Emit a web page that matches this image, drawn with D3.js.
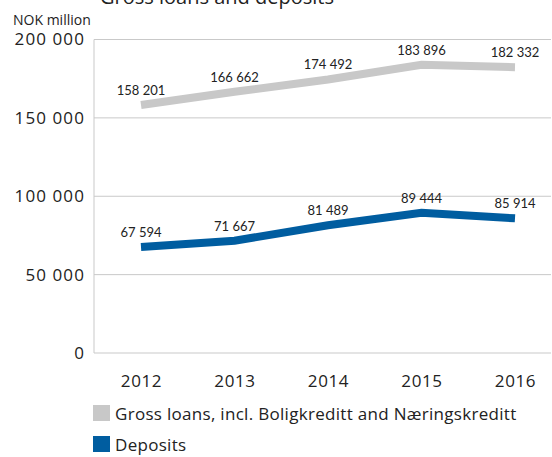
<!DOCTYPE html>
<html>
<head>
<meta charset="utf-8">
<script src="https://cdn.jsdelivr.net/npm/d3@7"></script>
<style>
  body { margin: 0; background: #fff; }
  svg text { font-family: "Open Sans", sans-serif; fill: #222; }
</style>
</head>
<body>
<div id="chart"></div>
<script>
// Chart data
const years = ['2012', '2013', '2014', '2015', '2016'];
const grossLoans = [158201, 166662, 174492, 183896, 182332];
const deposits = [67594, 71667, 81489, 89444, 85914];
const yTicks = [0, 50000, 100000, 150000, 200000];
const seriesNames = ['Gross loans, incl. Boligkreditt and Næringskreditt', 'Deposits'];
const seriesColors = ['#c8c8c8', '#005da0'];

const width = 552, height = 457;
const plot = { left: 94, right: 551, top: 39.5, bottom: 353 };

const fmt = v => d3.format(',')(v).replace(/,/g, ' ');

const svg = d3.select('#chart').append('svg')
    .attr('width', width)
    .attr('height', height);

// Title (partly cut off at the top, like the source)
svg.append('text')
    .attr('x', 217)
    .attr('y', 4)
    .style('text-anchor', 'middle')
    .style('font-size', '20px')
    .text('Gross loans and deposits');

svg.append('text')
    .attr('x', 13)
    .attr('y', 25)
    .style('font-size', '14px')
    .text('NOK million');

// Scales
const x = d3.scalePoint()
    .domain(years)
    .range([141, 515]);

const y = d3.scaleLinear()
    .domain([0, 200000])
    .range([plot.bottom, plot.top]);

// Gridlines
svg.append('g')
    .selectAll('line')
    .data(yTicks)
    .enter().append('line')
    .attr('x1', plot.left)
    .attr('x2', plot.right)
    .attr('y1', d => y(d))
    .attr('y2', d => y(d))
    .style('stroke', '#c9c9c9')
    .style('stroke-width', 1);

// Left frame line
svg.append('line')
    .attr('x1', plot.left).attr('x2', plot.left)
    .attr('y1', plot.top).attr('y2', plot.bottom)
    .style('stroke', '#c9c9c9');

// Y axis labels
const yAxis = d3.axisLeft(y)
    .tickValues(yTicks)
    .tickSize(0)
    .tickPadding(9)
    .tickFormat(fmt);

svg.append('g')
    .attr('transform', `translate(${plot.left},0)`)
    .call(yAxis)
    .call(g => g.select('.domain').remove())
    .selectAll('text')
    .style('font-size', '17px')
    .style('font-family', '"Open Sans", sans-serif')
    .style('letter-spacing', '1.1px')
    .style('fill', '#222');

// X axis labels
const xAxis = d3.axisBottom(x).tickSize(0).tickPadding(22);

svg.append('g')
    .attr('transform', `translate(0,${plot.bottom})`)
    .call(xAxis)
    .call(g => g.select('.domain').remove())
    .selectAll('text')
    .style('font-size', '17px')
    .style('font-family', '"Open Sans", sans-serif')
    .style('letter-spacing', '0.6px')
    .style('fill', '#222');

// Lines + value labels
const series = [grossLoans, deposits];
const line = d3.line()
    .x((d, i) => x(years[i]))
    .y(d => y(d));

series.forEach((values, s) => {
    svg.append('path')
        .datum(values)
        .attr('d', line)
        .style('fill', 'none')
        .style('stroke', seriesColors[s])
        .style('stroke-width', 8);

    svg.append('g')
        .selectAll('text')
        .data(values)
        .enter().append('text')
        .attr('x', (d, i) => x(years[i]))
        .attr('y', d => y(d) - 10)
        .style('text-anchor', 'middle')
        .style('font-family', 'Lato, sans-serif')
        .style('font-size', '13px')
        .text(fmt);
});

// Legend
const legend = svg.append('g')
    .selectAll('g')
    .data(seriesNames)
    .enter().append('g')
    .attr('transform', (d, i) => `translate(93, ${405 + i * 31})`);

legend.append('rect')
    .attr('width', 17)
    .attr('height', 16)
    .style('fill', (d, i) => seriesColors[i]);

legend.append('text')
    .attr('x', 22)
    .attr('y', 15)
    .style('font-size', '17px')
    .style('letter-spacing', '0.3px')
    .text(d => d);
</script>
</body>
</html>
